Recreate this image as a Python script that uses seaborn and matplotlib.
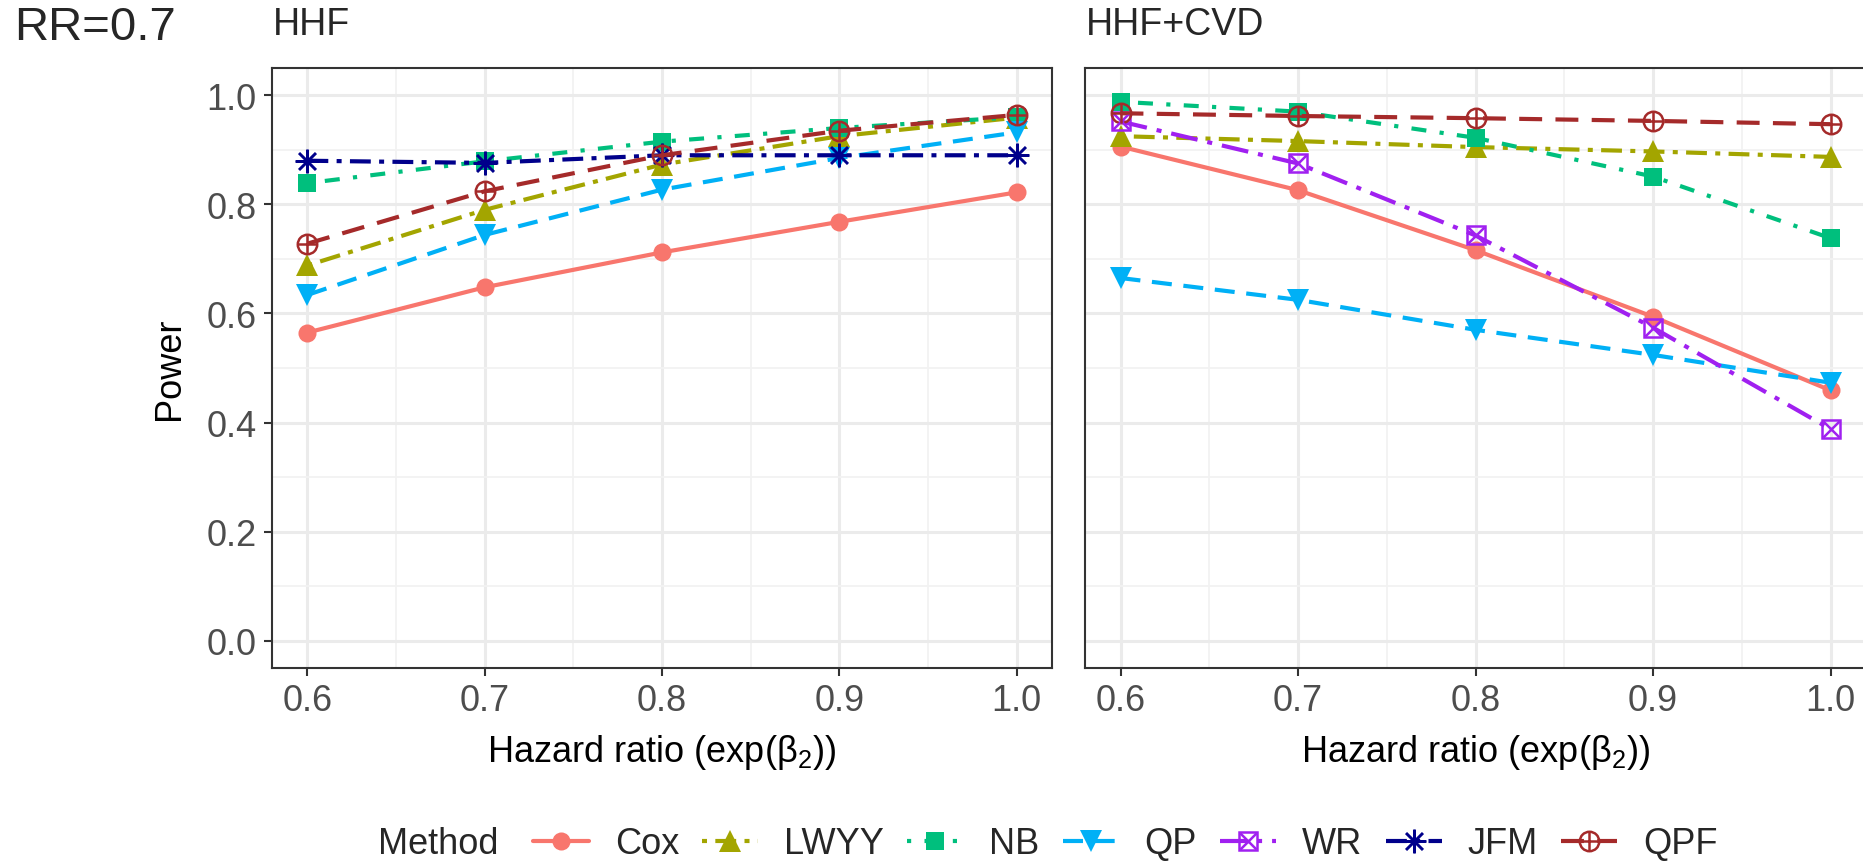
import matplotlib
matplotlib.use("Agg")
import matplotlib.pyplot as plt
import numpy as np
import pandas as pd
import seaborn as sns
from matplotlib.lines import Line2D
from matplotlib.ticker import MultipleLocator

# ---------------- data ----------------
hazard_ratio = [0.6, 0.7, 0.8, 0.9, 1.0]
methods = ["Cox", "LWYY", "NB", "QP", "WR", "JFM", "QPF"]

# Panel HHF
hhf_cox = [0.565, 0.648, 0.712, 0.768, 0.822]
hhf_lwyy = [0.688, 0.790, 0.873, 0.925, 0.959]
hhf_nb = [0.839, 0.879, 0.915, 0.940, 0.960]
hhf_qp = [0.634, 0.744, 0.827, 0.885, 0.932]
hhf_jfm = [0.880, 0.876, 0.890, 0.890, 0.890]
hhf_qpf = [0.728, 0.824, 0.890, 0.935, 0.964]

# Panel HHF+CVD
cvd_cox = [0.906, 0.826, 0.716, 0.594, 0.459]
cvd_lwyy = [0.925, 0.916, 0.905, 0.897, 0.887]
cvd_nb = [0.988, 0.970, 0.922, 0.851, 0.738]
cvd_qp = [0.665, 0.625, 0.570, 0.524, 0.473]
cvd_wr = [0.952, 0.875, 0.743, 0.574, 0.388]
cvd_qpf = [0.967, 0.962, 0.958, 0.953, 0.947]

panel_titles = ["HHF", "HHF+CVD"]
panel_data = [
    {"Cox": hhf_cox, "LWYY": hhf_lwyy, "NB": hhf_nb, "QP": hhf_qp,
     "JFM": hhf_jfm, "QPF": hhf_qpf},
    {"Cox": cvd_cox, "LWYY": cvd_lwyy, "NB": cvd_nb, "QP": cvd_qp,
     "WR": cvd_wr, "QPF": cvd_qpf},
]

rows = []
for title, pdict in zip(panel_titles, panel_data):
    for m, vals in pdict.items():
        for x, y in zip(hazard_ratio, vals):
            rows.append({"panel": title, "Method": m, "hr": x, "power": y})
df = pd.DataFrame(rows)

# ---------------- styles ----------------
colors = {"Cox": "#F8766D", "LWYY": "#A3A500", "NB": "#00BF7D", "QP": "#00B0F6",
          "WR": "#A020F0", "JFM": "#00008B", "QPF": "#A52A2A"}
dashes = {"Cox": "-",
          "LWYY": (0, (1.2, 2.0, 5, 2.0)),
          "NB": (0, (1.0, 3.2, 3.6, 3.2)),
          "QP": (0, (4.8, 2.8)),
          "WR": (0, (6.5, 2.4, 1.2, 2.4)),
          "JFM": (0, (5, 2, 1.2, 2)),
          "QPF": (0, (5.5, 3.2))}
markers = {"Cox": "o", "LWYY": "^", "NB": "s", "QP": "v",
           "WR": "s", "JFM": (8, 2, 0), "QPF": "o"}
overlay = {"WR": "x", "QPF": "+"}
open_marker = {"WR", "QPF"}
lw = 3.0
base_ms = {"Cox": 13, "LWYY": 16, "NB": 13, "QP": 16, "WR": 13, "JFM": 17, "QPF": 14}

sns.set_theme(style="white")
plt.rcParams["font.family"] = ["Liberation Sans", "DejaVu Sans"]
plt.rcParams["mathtext.fontset"] = "custom"
plt.rcParams["mathtext.rm"] = "Liberation Sans"
plt.rcParams["mathtext.it"] = "Liberation Sans"

fig = plt.figure(figsize=(18.63, 8.62), dpi=100)
W, H = 1863, 862
pos = [(272, 69, 1052, 669), (1085, 69, 1866, 669)]
axes = []
for (x0, y0, x1, y1) in pos:
    axes.append(fig.add_axes([x0 / W, 1 - y1 / H, (x1 - x0) / W, (y1 - y0) / H]))

for i, (ax, title) in enumerate(zip(axes, panel_titles)):
    sub = df[df.panel == title]
    for m in methods:
        d = sub[sub.Method == m]
        if d.empty:
            continue
        c = colors[m]
        ms = base_ms[m]
        kw = dict(color=c, linewidth=lw, linestyle=dashes[m], marker=markers[m],
                  markersize=ms, ax=ax, legend=False)
        if m in open_marker:
            kw.update(markerfacecolor="none", markeredgecolor=c, markeredgewidth=1.8)
        elif m == "JFM":
            kw.update(markeredgecolor=c, markeredgewidth=1.8)
        else:
            kw.update(markeredgecolor=c, markeredgewidth=0)
        sns.lineplot(data=d, x="hr", y="power", **kw)
        if m in overlay:
            sns.scatterplot(data=d, x="hr", y="power", marker=overlay[m],
                            color=c, s=190 if m == "QPF" else 130,
                            linewidth=1.8, ax=ax, legend=False, zorder=5)

    ax.set_xlim(0.58, 1.02)
    ax.set_ylim(-0.05, 1.05)
    ax.xaxis.set_minor_locator(MultipleLocator(0.05))
    ax.yaxis.set_minor_locator(MultipleLocator(0.1))
    ax.set_xticks(hazard_ratio)
    ax.set_xticklabels([f"{v:.1f}" for v in hazard_ratio])
    ax.set_yticks([0, 0.2, 0.4, 0.6, 0.8, 1.0])
    ax.grid(which="major", color="#EBEBEB", linewidth=2.2)
    ax.grid(which="minor", color="#F2F2F2", linewidth=1.3)
    ax.set_axisbelow(True)
    for s in ax.spines.values():
        s.set_color("#333333")
        s.set_linewidth(1.5)
    ax.tick_params(axis="both", which="major", direction="out", length=6, width=1.5,
                   color="#333333", labelsize=26, labelcolor="#4D4D4D", pad=5)
    ax.tick_params(axis="both", which="minor", length=0)
    ax.tick_params(axis="x", bottom=True)
    ax.set_xlabel("Hazard ratio (exp(β$_2$))", fontsize=26, color="black", labelpad=10)
    if i == 0:
        ax.tick_params(axis="y", left=True)
        ax.set_yticklabels(["0.0", "0.2", "0.4", "0.6", "0.8", "1.0"])
        ax.set_ylabel("Power", fontsize=26, color="black", labelpad=14)
    else:
        ax.tick_params(axis="y", left=False, labelleft=False)
        ax.set_ylabel("")
    ax.set_facecolor("white")

fig.text(273 / W, 1 - 25 / H, "HHF", fontsize=27, ha="left", va="center")
fig.text(1086 / W, 1 - 25 / H, "HHF+CVD", fontsize=27, ha="left", va="center")
fig.text(14 / W, 1 - 28 / H, "RR=0.7", fontsize=34, ha="left", va="center")

# legend
handles = []
for m in methods:
    c = colors[m]
    ms = base_ms[m]
    if m in open_marker:
        h1 = Line2D([], [], color=c, linewidth=lw, linestyle=dashes[m], marker=markers[m],
                    markersize=ms, markerfacecolor="none", markeredgecolor=c, markeredgewidth=1.8)
        h2 = Line2D([], [], color=c, linestyle="none", marker=overlay[m],
                    markersize=13 if m == "QPF" else 11, markeredgewidth=1.8)
        handles.append((h1, h2))
    elif m == "JFM":
        handles.append(Line2D([], [], color=c, linewidth=lw, linestyle=dashes[m],
                              marker=markers[m], markersize=ms, markeredgewidth=1.8))
    else:
        handles.append(Line2D([], [], color=c, linewidth=lw, linestyle=dashes[m],
                              marker=markers[m], markersize=ms, markeredgewidth=0))
fig.text(378 / W, 1 - 845 / H, "Method", fontsize=26, ha="left", va="center")
fig.legend(handles, methods, loc="center left", bbox_to_anchor=(533 / W, 1 - 845 / H),
           ncol=7, frameon=False, fontsize=26, handlelength=1.55, columnspacing=0.64,
           handletextpad=0.72, borderaxespad=0, borderpad=0)

fig.savefig("out.png", dpi=100, facecolor="white")
